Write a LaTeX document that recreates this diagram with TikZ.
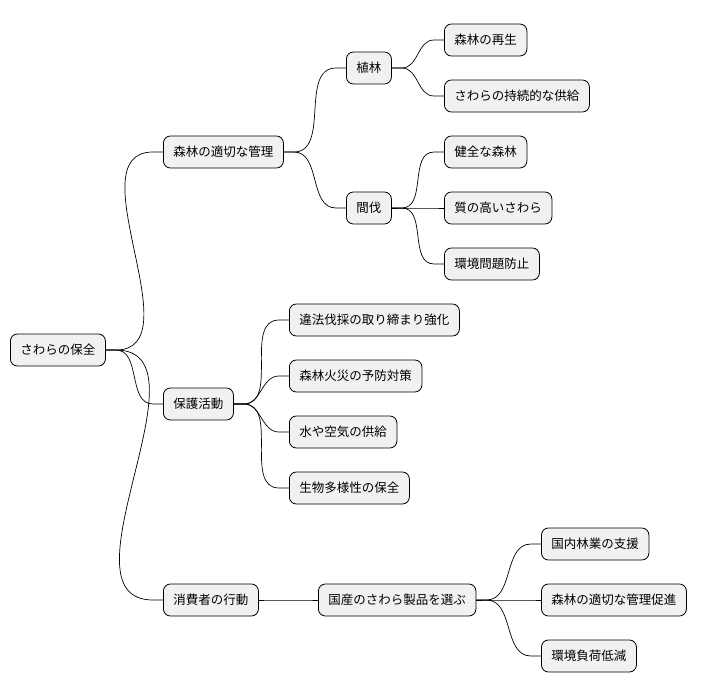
\documentclass[tikz,border=0pt]{standalone}
\usepackage{fontspec}
\setmainfont{Noto Sans CJK JP}
\begin{document}
\begin{tikzpicture}[x=1pt,y=-1pt,line width=0.8pt]
  \tikzset{box/.style={draw, rounded corners=7pt, fill={rgb,255:red,241;green,241;blue,241},
      minimum height=32pt, inner xsep=10pt, anchor=west, font=\fontsize{12.5}{15}\selectfont},
    link/.style={draw, line width=0.7pt}};
  \useasboundingbox (0,0) rectangle (712,696);

  % Root
  \node[box] (r) at (10,350) {さわらの保全};

  % Level 1
  \node[box] (kanri) at (163,152) {森林の適切な管理};
  \node[box] (hogo) at (163,404) {保護活動};
  \node[box] (shohi) at (163,600) {消費者の行動};

  % Level 2
  \node[box] (shokurin) at (346,68) {植林};
  \node[box] (kanbatsu) at (346,208) {間伐};
  \node[box] (ihou) at (289,320) {違法伐採の取り締まり強化};
  \node[box] (kasai) at (289,376) {森林火災の予防対策};
  \node[box] (mizu) at (289,432) {水や空気の供給};
  \node[box] (seibutsu) at (289,488) {生物多様性の保全};
  \node[box] (kokusan) at (318,600) {国産のさわら製品を選ぶ};

  % Level 3
  \node[box] (saisei) at (444,40) {森林の再生};
  \node[box] (kyokyu) at (444,96) {さわらの持続的な供給};
  \node[box] (kenzen) at (444,152) {健全な森林};
  \node[box] (shitsu) at (444,208) {質の高いさわら};
  \node[box] (boushi) at (444,264) {環境問題防止};
  \node[box] (shien) at (541,544) {国内林業の支援};
  \node[box] (sokushin) at (541,600) {森林の適切な管理促進};
  \node[box] (fuka) at (541,656) {環境負荷低減};

  % Edges
  \foreach \a/\b in {r/kanri, r/hogo, r/shohi, kanri/shokurin, kanri/kanbatsu,
      hogo/ihou, hogo/kasai, hogo/mizu, hogo/seibutsu, shohi/kokusan,
      shokurin/saisei, shokurin/kyokyu, kanbatsu/kenzen, kanbatsu/shitsu, kanbatsu/boushi,
      kokusan/shien, kokusan/sokushin, kokusan/fuka}
    { \path[link] (\a.east) -- ++(10,0) to[out=0,in=180] ([xshift=-10pt]\b.west) -- (\b.west); }
\end{tikzpicture}
\end{document}
